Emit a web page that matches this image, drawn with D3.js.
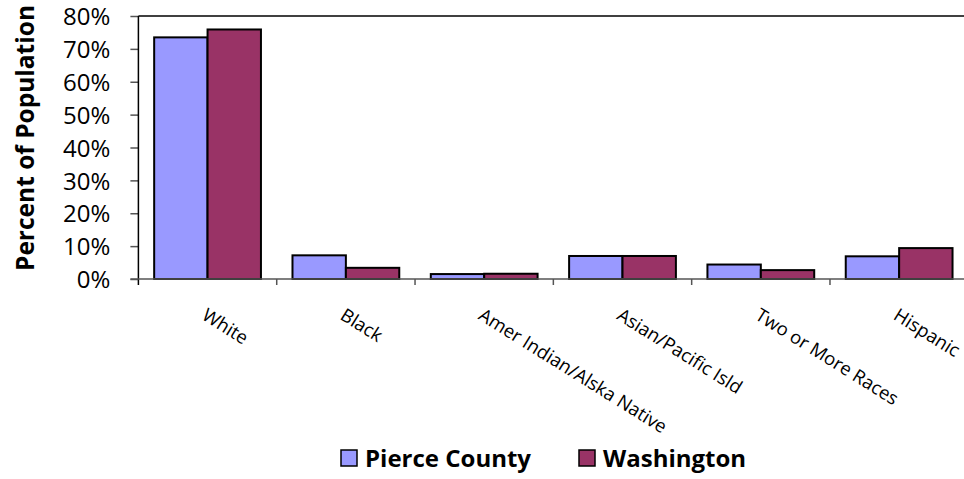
<!DOCTYPE html>
<html>
<head>
<meta charset="utf-8">
<script src="https://cdn.jsdelivr.net/npm/d3@7/dist/d3.min.js"></script>
<style>
  html, body { margin: 0; padding: 0; background: #fff; }
  svg { display: block; }
  text { font-family: "Open Sans", "Noto Sans", sans-serif; fill: #000; }
</style>
</head>
<body>
<svg id="chart" width="964" height="479"></svg>
<script>
// Race / ethnicity shares, Pierce County vs. Washington State
const categories = ["White", "Black", "Amer Indian/Alska Native", "Asian/Pacific Isld", "Two or More Races", "Hispanic"];
const seriesNames = ["Pierce County", "Washington"];
const pierceCounty = [0.735, 0.072, 0.015, 0.070, 0.044, 0.069];
const washington = [0.759, 0.034, 0.016, 0.070, 0.027, 0.094];
const yTicks = [0, 0.1, 0.2, 0.3, 0.4, 0.5, 0.6, 0.7, 0.8];
const colors = ["#9999FF", "#993366"];

const svg = d3.select("#chart");

const plot = { left: 138.4, right: 968.3, top: 16, bottom: 279 };

const x = d3.scaleBand().domain(categories).range([plot.left, plot.right]).padding(0);
const xInner = d3.scaleBand().domain(seriesNames)
  .range([x.bandwidth() * 0.114, x.bandwidth() * 0.886]).padding(0);
const y = d3.scaleLinear().domain([0, 0.8]).range([plot.bottom, plot.top]);

const rows = categories.map((c, i) => ({
  category: c,
  values: [
    { series: seriesNames[0], value: pierceCounty[i] },
    { series: seriesNames[1], value: washington[i] }
  ]
}));

// Plot frame: top edge
svg.append("line")
  .attr("x1", plot.left).attr("x2", plot.right)
  .attr("y1", plot.top).attr("y2", plot.top)
  .attr("stroke", "#000").attr("stroke-width", 1.5);

// Bars
const groups = svg.append("g").selectAll("g")
  .data(rows).join("g")
  .attr("transform", d => `translate(${x(d.category)},0)`);

groups.selectAll("rect")
  .data(d => d.values).join("rect")
  .attr("x", d => xInner(d.series))
  .attr("width", xInner.bandwidth())
  .attr("y", d => y(d.value))
  .attr("height", d => y(0) - y(d.value))
  .attr("fill", (d, i) => colors[i])
  .attr("stroke", "#000")
  .attr("stroke-width", 2);

// Y axis
const yAxis = d3.axisLeft(y).tickValues(yTicks)
  .tickFormat(d3.format(".0%")).tickSize(8).tickPadding(20);
const gy = svg.append("g").attr("transform", `translate(${plot.left},0)`).call(yAxis);
gy.select(".domain").remove();
gy.selectAll(".tick line").attr("stroke", "#555").attr("stroke-width", 1.5);
gy.selectAll(".tick text").style("font-size", "24px").attr("dy", "0.36em");
svg.append("line")
  .attr("x1", plot.left).attr("x2", plot.left)
  .attr("y1", plot.top).attr("y2", plot.bottom + 6)
  .attr("stroke", "#000").attr("stroke-width", 1.5);

// X axis baseline and category separators
svg.append("line")
  .attr("x1", plot.left - 8).attr("x2", plot.right)
  .attr("y1", plot.bottom).attr("y2", plot.bottom)
  .attr("stroke", "#555").attr("stroke-width", 1.5);
svg.append("g").selectAll("line")
  .data(categories.slice(1)).join("line")
  .attr("x1", d => x(d)).attr("x2", d => x(d))
  .attr("y1", plot.bottom).attr("y2", plot.bottom + 6)
  .attr("stroke", "#555").attr("stroke-width", 1.5);

// Rotated category labels
svg.append("g").selectAll("text")
  .data(categories).join("text")
  .attr("transform", d => `translate(${x(d) + x.bandwidth() / 2 + 1},306) rotate(32)`)
  .attr("dy", "0.8em")
  .style("font-size", "18.5px")
  .text(d => d);

// Y axis title
svg.append("text")
  .attr("transform", `translate(34,138) rotate(-90)`)
  .attr("text-anchor", "middle")
  .style("font-size", "24.5px")
  .style("font-weight", "bold")
  .text("Percent of Population");

// Legend
const legendItems = [
  { name: seriesNames[0], color: colors[0], x: 341 },
  { name: seriesNames[1], color: colors[1], x: 579 }
];
const lg = svg.append("g").selectAll("g").data(legendItems).join("g")
  .attr("transform", d => `translate(${d.x},450)`);
lg.append("rect")
  .attr("width", 16).attr("height", 16)
  .attr("fill", d => d.color).attr("stroke", "#000").attr("stroke-width", 1.5);
lg.append("text")
  .attr("x", 24).attr("y", 8).attr("dy", "0.36em")
  .style("font-size", "24px").style("font-weight", "bold")
  .text(d => d.name);
</script>
</body>
</html>
